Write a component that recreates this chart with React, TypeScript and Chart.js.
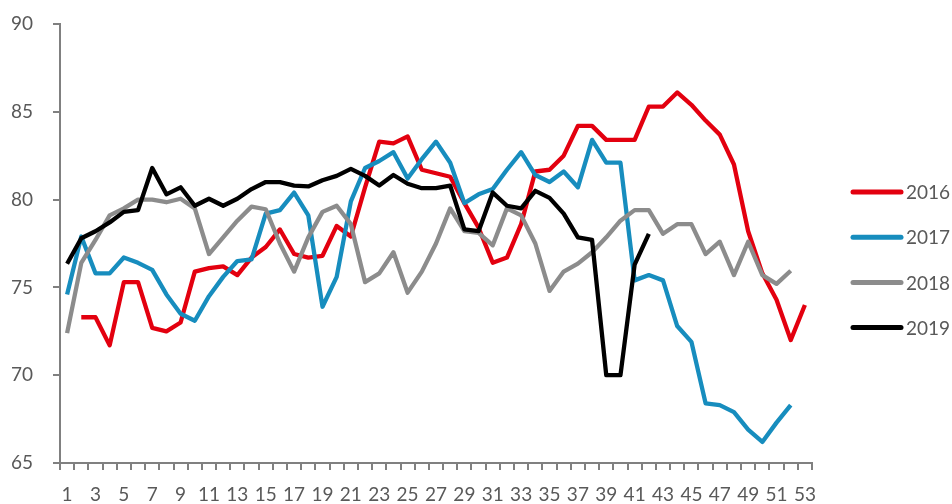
import React, { useEffect, useRef } from 'react';
import { Chart, registerables } from 'chart.js';

Chart.register(...registerables);

const weeks = ['1','2','3','4','5','6','7','8','9','10','11','12','13','14','15','16','17','18','19','20','21','22','23','24','25','26','27','28','29','30','31','32','33','34','35','36','37','38','39','40','41','42','43','44','45','46','47','48','49','50','51','52','53'];

const series2016 = [null, 73.3, 73.3, 71.7, 75.3, 75.3, 72.7, 72.5, 73.0, 75.9, 76.1, 76.2, 75.7, 76.7, 77.3, 78.3, 76.9, 76.7, 76.8, 78.5, 77.9, 80.7, 83.3, 83.2, 83.6, 81.7, 81.5, 81.3, 79.8, 78.4, 76.4, 76.7, 78.6, 81.6, 81.7, 82.5, 84.2, 84.2, 83.4, 83.4, 83.4, 85.3, 85.3, 86.1, 85.4, 84.5, 83.7, 82.0, 78.2, 75.8, 74.3, 72.0, 74.0];

const series2017 = [74.6, 77.9, 75.8, 75.8, 76.7, 76.4, 76.0, 74.6, 73.5, 73.1, 74.5, 75.6, 76.5, 76.6, 79.2, 79.4, 80.4, 79.1, 73.9, 75.6, 79.9, 81.8, 82.2, 82.7, 81.2, 82.3, 83.3, 82.1, 79.8, 80.3, 80.6, 81.7, 82.7, 81.4, 81.0, 81.6, 80.7, 83.4, 82.1, 82.1, 75.4, 75.7, 75.4, 72.8, 71.9, 68.4, 68.3, 67.9, 66.9, 66.2, 67.3, 68.3];

const series2018 = [72.4, 76.4, 77.7, 79.1, 79.5, 80.0, 80.0, 79.85, 80.05, 79.5, 76.9, 77.85, 78.8, 79.6, 79.45, 77.5, 75.9, 77.85, 79.3, 79.65, 78.6, 75.3, 75.8, 77.0, 74.7, 75.9, 77.5, 79.5, 78.2, 78.1, 77.4, 79.5, 79.1, 77.5, 74.8, 75.9, 76.35, 77.0, 77.85, 78.8, 79.4, 79.4, 78.05, 78.6, 78.6, 76.9, 77.6, 75.7, 77.6, 75.7, 75.2, 75.95];

const series2019 = [76.35, 77.8, 78.2, 78.7, 79.3, 79.4, 81.8, 80.3, 80.7, 79.65, 80.05, 79.65, 80.05, 80.6, 81.0, 81.0, 80.8, 80.75, 81.1, 81.35, 81.75, 81.35, 80.8, 81.4, 80.9, 80.65, 80.65, 80.8, 78.3, 78.2, 80.4, 79.65, 79.5, 80.5, 80.1, 79.2, 77.85, 77.7, 70.0, 70.0, 76.3, 78.05];

const seriesLabels = ['2016', '2017', '2018', '2019'];
const seriesColors = ['#E3000F', '#178DBE', '#8C8C8C', '#000000'];
const yMin = 65;
const yMax = 90;
const yStep = 5;

const FONT = 'Lato, "Open Sans", sans-serif';
const TEXT_COLOR = '#595959';
const AXIS_COLOR = '#808080';

export default function App() {
  const ref = useRef<HTMLCanvasElement>(null);

  useEffect(() => {
    if (!ref.current) return;
    const legendPlugin = {
      id: 'sideLegend',
      afterDraw(chart: any) {
        const ctx = chart.ctx;
        const area = chart.chartArea;
        ctx.save();
        chart.data.datasets.forEach((ds: any, i: number) => {
          const y = 192 + i * 45.2;
          const x0 = area.right + 41;
          ctx.strokeStyle = ds.borderColor;
          ctx.lineWidth = 5;
          ctx.lineCap = 'round';
          ctx.beginPath();
          ctx.moveTo(x0, y);
          ctx.lineTo(x0 + 48, y);
          ctx.stroke();
          ctx.fillStyle = TEXT_COLOR;
          ctx.font = `19px ${FONT}`;
          ctx.textBaseline = 'middle';
          ctx.textAlign = 'left';
          ctx.fillText(ds.label, x0 + 53, y + 1);
        });
        ctx.restore();
      },
    };

    const allSeries = [series2016, series2017, series2018, series2019];
    const chart = new Chart(ref.current, {
      type: 'line',
      data: {
        labels: weeks,
        datasets: allSeries.map((d, i) => ({
          label: seriesLabels[i],
          data: d,
          borderColor: seriesColors[i],
          backgroundColor: seriesColors[i],
          borderWidth: 4.3,
          pointRadius: 0,
          tension: 0,
          borderJoinStyle: 'round' as const,
          spanGaps: false,
          order: 3 - i,
        })),
      },
      options: {
        responsive: false,
        animation: false,
        devicePixelRatio: 1,
        layout: { padding: { top: 24, right: 140, bottom: 0, left: 0 } },
        plugins: {
          legend: { display: false },
          tooltip: { enabled: false },
        },
        scales: {
          x: {
            type: 'category',
            offset: true,
            grid: {
              offset: true,
              drawOnChartArea: false,
              drawTicks: true,
              tickLength: 7,
              color: AXIS_COLOR,
              lineWidth: 2,
            },
            border: { display: true, color: AXIS_COLOR, width: 2 },
            ticks: {
              autoSkip: false,
              maxRotation: 0,
              minRotation: 0,
              padding: 13,
              color: TEXT_COLOR,
              font: { family: FONT, size: 19 },
              callback: (_v: any, i: number) => (i % 2 === 0 ? weeks[i] : ''),
            },
            afterFit: (s: any) => {
              s.height = 41;
              s.paddingLeft = 0;
              s.paddingRight = 0;
            },
          },
          y: {
            min: yMin,
            max: yMax,
            ticks: {
              stepSize: yStep,
              padding: 20,
              color: TEXT_COLOR,
              font: { family: FONT, size: 19 },
            },
            grid: {
              drawOnChartArea: false,
              drawTicks: true,
              tickLength: 7,
              color: AXIS_COLOR,
              lineWidth: 2,
            },
            border: { display: true, color: AXIS_COLOR, width: 2 },
            afterFit: (s: any) => {
              s.width = 60;
              s.paddingTop = 0;
              s.paddingBottom = 0;
            },
          },
        },
      } as any,
      plugins: [legendPlugin],
    });
    return () => chart.destroy();
  }, []);

  return (
    <div style={{ position: 'absolute', left: 0, top: 0, width: 952, height: 504, background: '#fff' }}>
      <canvas ref={ref} width={952} height={504} />
    </div>
  );
}
